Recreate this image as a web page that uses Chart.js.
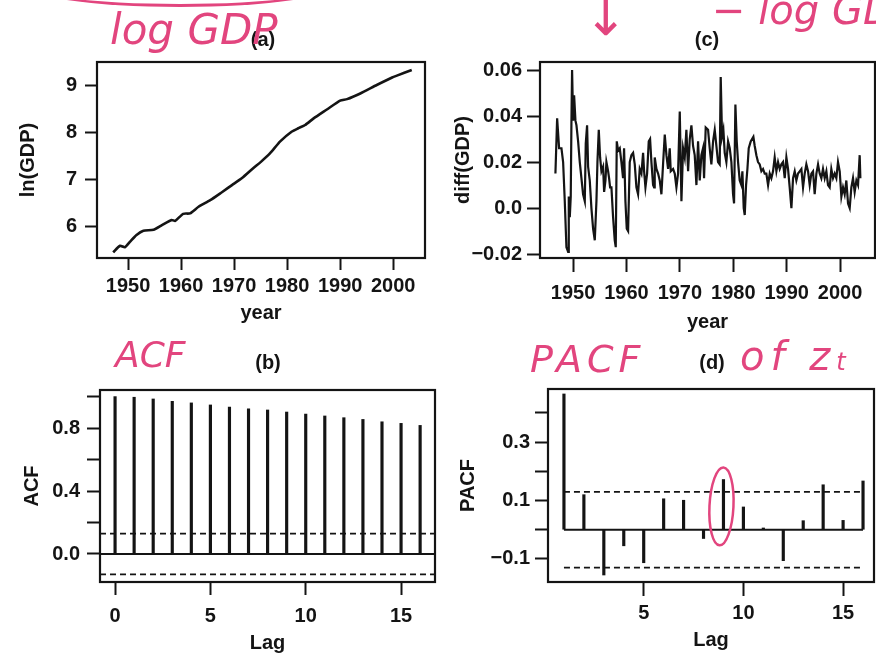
<!DOCTYPE html>
<html>
<head>
<meta charset="utf-8">
<script src="https://cdn.jsdelivr.net/npm/chart.js@4/dist/chart.umd.min.js"></script>
<style>
  body { margin: 0; width: 876px; height: 655px; overflow: hidden; background: #fff; position: relative; }
  canvas { position: absolute; }
  .ink { position: absolute; color: #e2457e; font-family: "DejaVu Sans", sans-serif; font-style: italic; white-space: nowrap; line-height: 1; }
  .arc { position: absolute; left: 20px; top: -40px; width: 320px; height: 44px; border-bottom: 3px solid #e2457e; border-radius: 50%; }
</style>
</head>
<body>
<canvas id="chartA" width="440" height="330" style="left:0;top:0"></canvas>
<canvas id="chartC" width="436" height="340" style="left:440px;top:0"></canvas>
<canvas id="chartB" width="440" height="325" style="left:0;top:330px"></canvas>
<canvas id="chartD" width="436" height="325" style="left:440px;top:330px"></canvas>

<div class="arc"></div>
<div class="ink" style="left:110px;top:9px;font-size:42px">log GDP</div>
<div class="ink" style="left:584px;top:-9px;font-size:52px">↓</div>
<div class="ink" style="left:712px;top:-10px;font-size:40px">− log GDP</div>
<div class="ink" style="left:115px;top:337px;font-size:36px">ACF</div>
<div class="ink" style="left:530px;top:340px;font-size:38px;letter-spacing:5px">PACF</div>
<div class="ink" style="left:740px;top:336px;font-size:40px;letter-spacing:6px">of z<span style="font-size:24px">t</span></div>

<script>
// (a) log GDP
const gdpYears = [1947.2, 1948.5, 1949.4, 1950.4, 1951.6, 1952.9, 1954.8, 1956.4, 1958.2, 1958.9,
  1960.4, 1961.7, 1963.3, 1965.5, 1967.7, 1969.6, 1971.5, 1973.6, 1975.0, 1976.8,
  1978.7, 1980.9, 1982.1, 1983.4, 1985.0, 1987.5, 1990.0, 1991.3, 1993.8, 1996.9,
  1999.8, 2000.7, 2003.5];
const lnGdp = [5.46, 5.60, 5.57, 5.69, 5.83, 5.92, 5.94, 6.04, 6.15, 6.13,
  6.28, 6.29, 6.43, 6.57, 6.74, 6.89, 7.04, 7.25, 7.38, 7.57,
  7.82, 8.03, 8.10, 8.17, 8.31, 8.50, 8.69, 8.72, 8.84, 9.02,
  9.18, 9.22, 9.34];

// (c) differenced log GDP
const diffYears = [1946.69, 1947.01, 1947.38, 1947.82, 1948.13, 1948.44, 1948.75, 1949.07, 1949.19, 1949.38,
  1949.56, 1949.69, 1949.81, 1950.00, 1950.19, 1950.44, 1950.63, 1950.94, 1951.25, 1951.56,
  1951.87, 1952.19, 1952.37, 1952.62, 1952.81, 1953.12, 1953.43, 1953.75, 1954.06, 1954.37,
  1954.56, 1954.81, 1955.06, 1955.31, 1955.62, 1955.81, 1956.06, 1956.24, 1956.56, 1956.74,
  1956.93, 1957.18, 1957.49, 1957.80, 1957.99, 1958.18, 1958.43, 1958.74, 1959.05, 1959.36,
  1959.55, 1959.80, 1960.05, 1960.30, 1960.61, 1960.92, 1961.24, 1961.55, 1961.86, 1962.17,
  1962.48, 1962.80, 1963.11, 1963.30, 1963.55, 1963.86, 1964.17, 1964.42, 1964.67, 1964.98,
  1965.17, 1965.29, 1965.61, 1965.92, 1966.23, 1966.54, 1966.85, 1967.17, 1967.48, 1967.79,
  1968.10, 1968.29, 1968.73, 1969.04, 1969.35, 1969.66, 1969.98, 1970.29, 1970.60, 1970.91,
  1971.22, 1971.54, 1971.85, 1972.16, 1972.47, 1972.78, 1973.10, 1973.41, 1973.72, 1974.03,
  1974.34, 1974.53, 1974.84, 1975.28, 1975.59, 1975.90, 1976.22, 1976.53, 1976.84, 1977.15,
  1977.46, 1977.65, 1977.90, 1978.15, 1978.40, 1978.71, 1979.03, 1979.34, 1979.65, 1979.96,
  1980.15, 1980.40, 1980.65, 1980.90, 1981.21, 1981.52, 1981.71, 1981.96, 1982.15, 1982.40,
  1982.65, 1982.90, 1983.27, 1983.52, 1983.77, 1984.02, 1984.33, 1984.64, 1984.96, 1985.27,
  1985.58, 1985.89, 1986.20, 1986.52, 1986.83, 1987.14, 1987.45, 1987.76, 1988.08, 1988.39,
  1988.70, 1989.01, 1989.32, 1989.64, 1989.95, 1990.26, 1990.57, 1990.89, 1991.20, 1991.51,
  1991.82, 1992.13, 1992.44, 1992.76, 1993.07, 1993.38, 1993.69, 1994.01, 1994.32, 1994.63,
  1994.94, 1995.25, 1995.57, 1995.88, 1996.19, 1996.50, 1996.81, 1997.13, 1997.44, 1997.75,
  1998.06, 1998.37, 1998.69, 1999.00, 1999.31, 1999.62, 1999.94, 2000.25, 2000.56, 2000.87,
  2001.18, 2001.50, 2001.81, 2002.12, 2002.43, 2002.74, 2003.06, 2003.37, 2003.68, 2003.81];
const diffGdp = [0.015, 0.039, 0.026, 0.026, 0.020, 0.003, -0.017, -0.019, 0.005, -0.004,
  0.005, 0.038, 0.060, 0.038, 0.049, 0.038, 0.036, 0.029, 0.020, 0.013,
  0.006, 0.003, 0.028, 0.036, 0.018, 0.012, 0.000, -0.009, -0.014, 0.003,
  0.020, 0.034, 0.022, 0.016, 0.018, 0.007, 0.012, 0.020, 0.016, 0.013,
  0.009, 0.009, -0.004, -0.014, -0.017, 0.029, 0.025, 0.026, 0.020, 0.013,
  0.026, 0.003, -0.009, -0.010, 0.020, 0.023, 0.024, 0.019, 0.009, 0.006,
  0.017, 0.015, 0.024, 0.016, 0.009, 0.015, 0.029, 0.030, 0.020, 0.010,
  0.009, 0.022, 0.017, 0.015, 0.012, 0.006, 0.019, 0.032, 0.023, 0.017,
  0.026, 0.016, 0.017, 0.015, 0.009, 0.015, 0.042, 0.003, 0.026, 0.022,
  0.034, 0.016, 0.030, 0.036, 0.027, 0.023, 0.010, 0.029, 0.012, 0.023,
  0.026, 0.013, 0.035, 0.034, 0.026, 0.019, 0.029, 0.034, 0.027, 0.020,
  0.019, 0.057, 0.031, 0.034, 0.024, 0.020, 0.029, 0.026, 0.020, 0.006,
  0.002, 0.045, 0.029, 0.020, 0.012, 0.010, 0.016, 0.000, -0.003, 0.010,
  0.017, 0.026, 0.029, 0.030, 0.031, 0.027, 0.023, 0.020, 0.019, 0.016,
  0.017, 0.015, 0.015, 0.010, 0.015, 0.013, 0.016, 0.022, 0.016, 0.020,
  0.017, 0.019, 0.020, 0.013, 0.022, 0.017, 0.009, 0.000, 0.013, 0.016,
  0.012, 0.015, 0.016, 0.017, 0.009, 0.015, 0.019, 0.016, 0.010, 0.015,
  0.016, 0.006, 0.015, 0.019, 0.015, 0.013, 0.017, 0.013, 0.016, 0.010,
  0.009, 0.017, 0.013, 0.015, 0.013, 0.020, 0.016, 0.005, 0.009, 0.006,
  0.012, 0.002, 0.000, 0.009, 0.013, 0.007, 0.012, 0.010, 0.023, 0.013];

// (b) ACF of log GDP and (d) PACF of the differenced series
const acfLags = [0, 1, 2, 3, 4, 5, 6, 7, 8, 9, 10, 11, 12, 13, 14, 15, 16];
const acfValues = [1.0, 0.996, 0.985, 0.970, 0.960, 0.947, 0.934, 0.923, 0.915, 0.902,
  0.889, 0.877, 0.866, 0.855, 0.840, 0.830, 0.817];
const pacfLags = [1, 2, 3, 4, 5, 6, 7, 8, 9, 10, 11, 12, 13, 14, 15, 16];
const pacfValues = [0.465, 0.12, -0.155, -0.055, -0.113, 0.106, 0.101, -0.03, 0.172, 0.078,
  0.006, -0.106, 0.031, 0.154, 0.032, 0.167];
const ciBound = 0.13;

const yearTicks = [1950, 1960, 1970, 1980, 1990, 2000];
const yearLabels = ['1950', '1960', '1970', '1980', '1990', '2000'];
const lnTicks = [6, 7, 8, 9];
const lnLabels = ['6', '7', '8', '9'];
const diffTicks = [-0.02, 0, 0.02, 0.04, 0.06];
const diffLabels = ['\u22120.02', '0.0', '0.02', '0.04', '0.06'];
const acfTicks = [0, 0.2, 0.4, 0.6, 0.8, 1.0];
const acfLabels = ['0.0', '', '0.4', '', '0.8', ''];
const pacfTicks = [-0.1, 0, 0.1, 0.2, 0.3, 0.4];
const pacfLabels = ['\u22120.1', '', '0.1', '', '0.3', ''];
const lagTicksB = [0, 5, 10, 15];
const lagLabelsB = ['0', '5', '10', '15'];
const lagTicksD = [5, 10, 15];
const lagLabelsD = ['5', '10', '15'];
const circledLag = 9;

const INK = '#141414';
const PINK = '#e2457e';
const FONT = '"Liberation Sans", Arial, sans-serif';

Chart.defaults.font.family = FONT;
Chart.defaults.font.size = 20;
Chart.defaults.font.weight = 'bold';
Chart.defaults.color = INK;

function axis(min, max, ticks, labels, o) {
  return {
    type: 'linear',
    min: min,
    max: max,
    offset: false,
    afterBuildTicks: s => { s.ticks = ticks.map(v => ({value: v})); },
    afterFit: s => {
      if (o.width) s.width = o.width;
      if (o.height) s.height = o.height;
    },
    grid: {offset: false, drawOnChartArea: false, drawTicks: true, tickLength: o.tick, tickColor: INK, tickWidth: 2},
    border: {display: false},
    ticks: {padding: o.pad, color: INK, maxRotation: 0, autoSkip: false, callback: (v, i) => labels[i]},
    title: {display: true, text: o.title, color: INK, padding: o.tpad}
  };
}

// box round the plot, the (a)..(d) label and the pink circle
const framePlugin = {
  id: 'frame',
  afterDraw(chart, args, opts) {
    const {ctx, chartArea: a} = chart;
    ctx.save();
    ctx.strokeStyle = INK;
    ctx.lineWidth = 2.2;
    ctx.strokeRect(a.left, a.top, a.right - a.left, a.bottom - a.top);
    ctx.fillStyle = INK;
    ctx.font = 'bold 20px ' + FONT;
    ctx.textAlign = 'center';
    ctx.textBaseline = 'middle';
    ctx.fillText(opts.label, opts.labelX, opts.labelY);
    if (opts.circle !== undefined) {
      const x = chart.scales.x.getPixelForValue(opts.circle);
      const y = chart.scales.y.getPixelForValue(0.08);
      ctx.strokeStyle = PINK;
      ctx.lineWidth = 2.5;
      ctx.beginPath();
      ctx.ellipse(x - 2, y, 12, 39, 0.05, 0, Math.PI * 2);
      ctx.stroke();
    }
    ctx.restore();
  }
};

function baseOptions(pad, frame) {
  return {
    responsive: false,
    animation: false,
    devicePixelRatio: 1,
    layout: {padding: pad},
    plugins: {legend: {display: false}, tooltip: {enabled: false}, frame: frame},
    elements: {point: {radius: 0}}
  };
}

function hline(x0, x1, y, dash) {
  return {
    type: 'line',
    data: [{x: x0, y: y}, {x: x1, y: y}],
    borderColor: INK,
    borderWidth: dash ? 1.8 : 2,
    borderDash: dash ? [6, 4] : [],
    pointRadius: 0
  };
}

// (a)
new Chart(document.getElementById('chartA'), {
  type: 'line',
  data: {
    datasets: [{
      data: gdpYears.map((x, i) => ({x: x, y: lnGdp[i]})),
      borderColor: INK,
      borderWidth: 2.6,
      tension: 0.2
    }]
  },
  options: Object.assign(baseOptions({left: 0, top: 62, right: 15, bottom: 0}, {label: '(a)', labelX: 263, labelY: 40}), {
    scales: {
      x: axis(1944.15, 2006, yearTicks, yearLabels, {height: 72, tick: 12, pad: 4, title: 'year', tpad: {bottom: 5}}),
      y: axis(5.34, 9.51, lnTicks, lnLabels, {width: 97, tick: 12, pad: 8, title: 'ln(GDP)', tpad: {top: 16}})
    }
  }),
  plugins: [framePlugin]
});

// (c)
new Chart(document.getElementById('chartC'), {
  type: 'line',
  data: {
    datasets: [{
      data: diffYears.map((x, i) => ({x: x, y: diffGdp[i]})),
      borderColor: INK,
      borderWidth: 2.2,
      tension: 0
    }]
  },
  options: Object.assign(baseOptions({left: 0, top: 62, right: 1, bottom: 0}, {label: '(c)', labelX: 267, labelY: 40}), {
    scales: {
      x: axis(1943.8, 2006.55, yearTicks, yearLabels, {height: 82, tick: 14, pad: 9, title: 'year', tpad: {bottom: 6}}),
      y: axis(-0.0217, 0.0635, diffTicks, diffLabels, {width: 100, tick: 13, pad: 5, title: 'diff(GDP)', tpad: {top: 11}})
    }
  }),
  plugins: [framePlugin]
});

// (b)
new Chart(document.getElementById('chartB'), {
  type: 'bar',
  data: {
    datasets: [
      {data: acfLags.map((x, i) => ({x: x, y: acfValues[i]})), backgroundColor: INK, barThickness: 2.5},
      hline(-0.79, 16.78, 0, false),
      hline(-0.79, 16.78, ciBound, true),
      hline(-0.79, 16.78, -ciBound, true)
    ]
  },
  options: Object.assign(baseOptions({left: 0, top: 60, right: 5, bottom: 0}, {label: '(b)', labelX: 268, labelY: 33}), {
    scales: {
      x: axis(-0.79, 16.78, lagTicksB, lagLabelsB, {height: 73, tick: 13, pad: 9, title: 'Lag', tpad: {bottom: 0}}),
      y: axis(-0.178, 1.042, acfTicks, acfLabels, {width: 100, tick: 13, pad: 7, title: 'ACF', tpad: {top: 20}})
    }
  }),
  plugins: [framePlugin]
});

// (d)
new Chart(document.getElementById('chartD'), {
  type: 'bar',
  data: {
    datasets: [
      {data: pacfLags.map((x, i) => ({x: x, y: pacfValues[i]})), backgroundColor: INK, barThickness: 2.5},
      hline(1, 16, 0, false),
      hline(1, 16, ciBound, true),
      hline(1, 16, -ciBound, true)
    ]
  },
  options: Object.assign(baseOptions({left: 0, top: 59, right: 2, bottom: 0}, {label: '(d)', labelX: 272, labelY: 33, circle: circledLag}), {
    scales: {
      x: axis(0.2, 16.55, lagTicksD, lagLabelsD, {height: 73, tick: 14, pad: 5, title: 'Lag', tpad: {bottom: 3}}),
      y: axis(-0.179, 0.482, pacfTicks, pacfLabels, {width: 108, tick: 13, pad: 5, title: 'PACF', tpad: {top: 16}})
    }
  }),
  plugins: [framePlugin]
});
</script>
</body>
</html>
